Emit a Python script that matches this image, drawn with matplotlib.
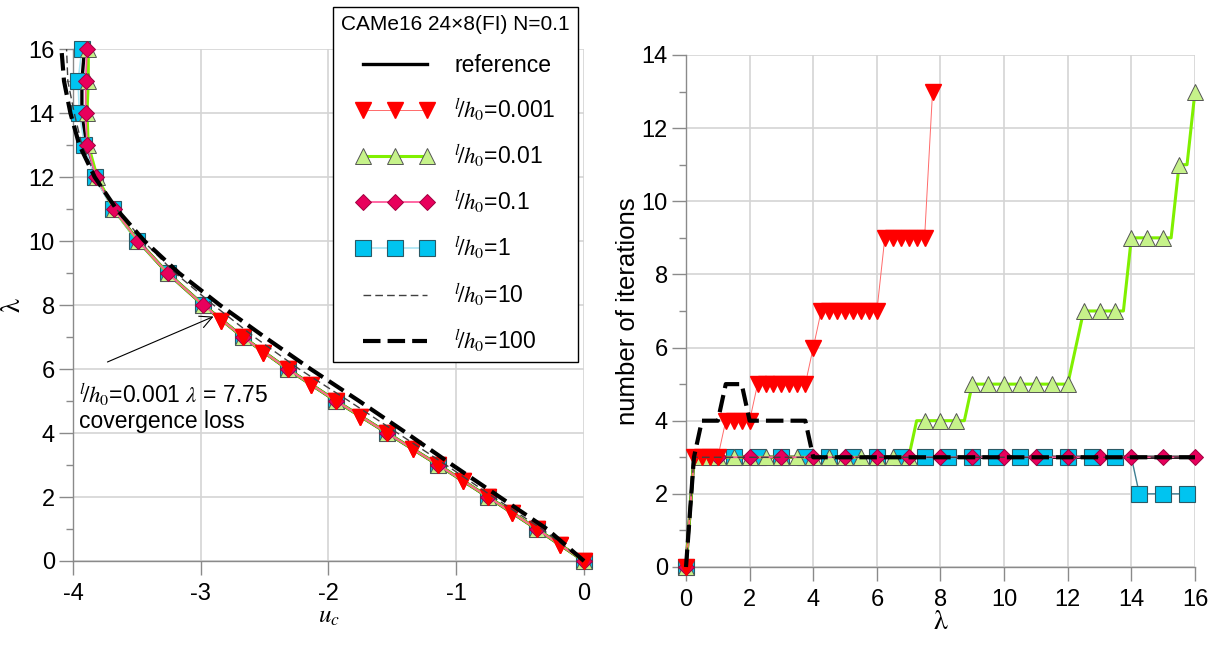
import matplotlib
matplotlib.use("Agg")
import numpy as np
from matplotlib import pyplot as plt

plt.rcParams['font.family'] = ['Liberation Sans', 'DejaVu Sans']
plt.rcParams['mathtext.fontset'] = 'stix'

# ---- left plot: u_c vs lambda ----
lam_int = [0, 1, 2, 3, 4, 5, 6, 7, 8, 9, 10, 11, 12, 13, 14, 15, 16]
u_ref = [0, -0.37, -0.75, -1.14, -1.54, -1.94, -2.32, -2.67, -2.98, -3.26,
         -3.49, -3.68, -3.82, -3.90, -3.93, -3.93, -3.91]
u_001 = [0, -0.37, -0.75, -1.14, -1.54, -1.94, -2.32, -2.67, -2.98, -3.26,
         -3.49, -3.68, -3.81, -3.88, -3.89, -3.88, -3.88]
u_01 = [0, -0.37, -0.75, -1.14, -1.54, -1.94, -2.32, -2.67, -2.98, -3.26,
        -3.49, -3.68, -3.82, -3.89, -3.90, -3.90, -3.89]
u_1 = [0, -0.37, -0.75, -1.14, -1.54, -1.94, -2.32, -2.67, -2.98, -3.26,
       -3.50, -3.69, -3.83, -3.91, -3.95, -3.96, -3.93]
u_10 = [0, -0.33, -0.71, -1.08, -1.46, -1.84, -2.23, -2.58, -2.90, -3.20,
        -3.45, -3.66, -3.82, -3.93, -3.99, -4.04, -4.05]
u_100 = [0, -0.29, -0.66, -1.03, -1.39, -1.76, -2.14, -2.50, -2.85, -3.17,
         -3.44, -3.66, -3.83, -3.95, -4.02, -4.07, -4.09]

lam_0001 = [0, 0.5, 1, 1.5, 2, 2.5, 3, 3.5, 4, 4.5, 5, 5.5, 6, 6.5, 7, 7.5]
u_0001 = [0, -0.19, -0.37, -0.56, -0.75, -0.95, -1.14, -1.34, -1.54, -1.75,
          -1.94, -2.14, -2.32, -2.51, -2.67, -2.84]

# ---- right plot: iterations vs lambda (step 0.25) ----
lam_q = np.arange(65) * 0.25
it_ref = [0] + [3] * 64
it_0001 = [0, 3, 3, 3, 3, 4, 4, 4, 4, 5, 5, 5, 5, 5, 5, 5,
           6, 7, 7, 7, 7, 7, 7, 7, 7, 9, 9, 9, 9, 9, 9, 13]
it_001 = [0, 3, 3, 3, 3, 3, 3, 3, 3, 3, 3, 3, 3, 3, 3, 3,
          3, 3, 3, 3, 3, 3, 3, 3, 3, 3, 3, 3, 3, 4, 4, 4,
          4, 4, 4, 4, 5, 5, 5, 5, 5, 5, 5, 5, 5, 5, 5, 5,
          5, 6, 7, 7, 7, 7, 7, 7, 9, 9, 9, 9, 9, 9, 11, 11,
          13]
it_01 = [0] + [3] * 64
it_1 = [0, 3, 3, 3, 3, 3, 3, 3, 3, 3, 3, 3, 3, 3, 3, 3,
        3, 3, 3, 3, 3, 3, 3, 3, 3, 3, 3, 3, 3, 3, 3, 3,
        3, 3, 3, 3, 3, 3, 3, 3, 3, 3, 3, 3, 3, 3, 3, 3,
        3, 3, 3, 3, 3, 3, 3, 3, 3, 2, 2, 2, 2, 2, 2, 2,
        2]
it_10 = [0] + [3] * 64
it_100 = [0, 3, 4, 4, 4, 5, 5, 5, 4, 4, 4, 4, 4, 4, 4, 4,
          3, 3, 3, 3, 3, 3, 3, 3, 3, 3, 3, 3, 3, 3, 3, 3,
          3, 3, 3, 3, 3, 3, 3, 3, 3, 3, 3, 3, 3, 3, 3, 3,
          3, 3, 3, 3, 3, 3, 3, 3, 3, 3, 3, 3, 3, 3, 3, 3,
          3]

lh = r'${}^{l}\!/h_0$'
labels = ['reference', lh + '=0.001', lh + '=0.01', lh + '=0.1',
          lh + '=1', lh + '=10', lh + '=100']

st_ref = dict(color='black', lw=2.4)
st_0001 = dict(color='#ff6a6a', lw=0.7, marker='v', ms=11, mfc='#ff0000', mec='#ff0000')
st_001 = dict(color='#80f000', lw=2.2, marker='^', ms=11, mfc='#c6f28a', mec='#555555', mew=0.7)
st_01 = dict(color='#ff5c9c', lw=1.3, marker='D', ms=8, mfc='#e8005c', mec='#a00040', mew=0.7)
st_1 = dict(color='#a8e4f4', lw=1.2, marker='s', ms=11, mfc='#00c4f0', mec='#2a5a66', mew=0.8)
st_10 = dict(color='#404040', lw=1.0, dashes=(5.5, 3))
st_100 = dict(color='black', lw=3.0, dashes=(4.2, 1.7))

fig = plt.figure(figsize=(12.2, 6.46), dpi=100)
ax1 = fig.add_axes([0.0598, 0.1316, 0.4189, 0.7924])
ax2 = fig.add_axes([0.5623, 0.1223, 0.4172, 0.7926])

# left
h_ref, = ax1.plot(u_ref, lam_int, clip_on=False, zorder=3, **st_ref)
h1, = ax1.plot(u_1, lam_int, clip_on=False, zorder=4, **st_1)
h0001, = ax1.plot(u_0001, lam_0001, clip_on=False, zorder=5, **st_0001)
h001, = ax1.plot(u_001, lam_int, clip_on=False, zorder=6, **st_001)
h01, = ax1.plot(u_01, lam_int, clip_on=False, zorder=6, **st_01)
h10, = ax1.plot(u_10, lam_int, clip_on=False, zorder=8, **st_10)
h100, = ax1.plot(u_100, lam_int, clip_on=False, zorder=9, **st_100)
# red markers on top of the others
ax1.plot(u_0001, lam_0001, ls='none', marker='v', ms=11, mfc='#ff0000',
         mec='#ff0000', clip_on=False, zorder=7)

ax1.set_xlim(-4, 0)
ax1.set_ylim(0, 16)
ax1.set_xticks([-4, -3, -2, -1, 0])
ax1.set_xticklabels(['-4', '-3', '-2', '-1', '0'])
ax1.set_yticks(np.arange(0, 17, 2))
ax1.set_yticks(np.arange(1, 16, 2), minor=True)
ax1.set_xlabel(r'$u_c$', fontsize=18, labelpad=-1)
ax1.set_ylabel('λ', fontsize=20, family='STIXGeneral', labelpad=2)

ax1.text(-3.95, 5.6, lh + r'=0.001 $\lambda$ = 7.75' + '\ncovergence loss',
         ha='left', va='top', fontsize=16.5, linespacing=1.1, zorder=10)
ax1.annotate('', xy=(-2.9, 7.64), xytext=(-3.73, 6.22), zorder=10,
             arrowprops=dict(arrowstyle='->', color='black', lw=0.8,
                             shrinkA=0, shrinkB=0, mutation_scale=22))

leg = ax1.legend([h_ref, h0001, h001, h01, h1, h10, h100], labels,
                 loc='upper right', bbox_to_anchor=(0.4738, 0.9892),
                 bbox_transform=fig.transFigure, borderaxespad=0,
                 title='CAMe16 24×8(FI) N=0.1', title_fontsize=15,
                 fontsize=16.5, handlelength=3.4, labelspacing=0.87,
                 fancybox=False, framealpha=1, edgecolor='black',
                 borderpad=0.35, handletextpad=0.9, numpoints=3)
leg.get_frame().set_linewidth(1.0)
leg.set_zorder(20)

# right
ax2.plot(lam_q, it_ref, clip_on=False, zorder=3, **st_ref)
st_1r = dict(st_1)
st_1r['color'] = '#3d7f92'
st_1r['lw'] = 1.0
ax2.plot(lam_q, it_1, clip_on=False, zorder=4, markevery=3, **st_1r)
ax2.plot(lam_q, it_001, clip_on=False, zorder=5, markevery=2, **st_001)
ax2.plot(lam_q, it_01, clip_on=False, zorder=6, markevery=4, **st_01)
ax2.plot(lam_q[:len(it_0001)], it_0001, clip_on=False, zorder=7, **st_0001)
ax2.plot(lam_q, it_10, clip_on=False, zorder=8, **st_10)
ax2.plot(lam_q, it_100, clip_on=False, zorder=9, **st_100)

ax2.set_xlim(0, 16)
ax2.set_ylim(0, 14)
ax2.set_xticks(np.arange(0, 17, 2))
ax2.set_yticks(np.arange(0, 15, 2))
ax2.set_yticks(np.arange(1, 14, 2), minor=True)
ax2.set_xlabel('λ', fontsize=20, family='STIXGeneral', labelpad=-1)
ax2.set_ylabel('number of iterations', fontsize=18.5, labelpad=1)

for ax in (ax1, ax2):
    ax.grid(True, which='major', color='#d4d4d4', lw=1.2)
    ax.set_axisbelow(True)
    for s in ('top', 'right'):
        ax.spines[s].set_visible(False)
    for s in ('left', 'bottom'):
        ax.spines[s].set_color('#8a8a8a')
        ax.spines[s].set_linewidth(1.0)
    ax.tick_params(which='major', direction='out', length=10, width=1,
                   color='#8a8a8a', labelsize=17)
    ax.tick_params(which='minor', direction='out', length=5, width=1,
                   color='#8a8a8a')
    ax.tick_params(axis='y', pad=3)
    ax.tick_params(axis='x', pad=6)

fig.savefig('out.png', dpi=100)
